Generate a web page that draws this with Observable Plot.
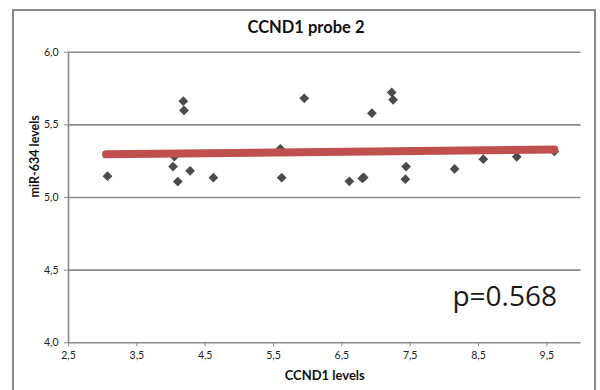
<!DOCTYPE html>
<html>
<head>
<meta charset="utf-8">
<script src="https://cdn.jsdelivr.net/npm/d3@7"></script>
<script src="https://cdn.jsdelivr.net/npm/@observablehq/plot@0.6"></script>
<style>
  html, body { margin: 0; padding: 0; background: #fff; }
  #wrap { position: relative; width: 600px; height: 390px; overflow: hidden; font-family: Lato, "Open Sans", sans-serif; }
  #border { position: absolute; left: 12px; top: 9px; width: 584px; height: 400px; border: 2px solid #8a8a8a; box-sizing: border-box; }
  #title { position: absolute; left: 0; width: 612px; top: 17px; text-align: center; font-weight: bold; font-size: 16.5px; color: #111; }
  #chart { position: absolute; left: 0; top: 0; }
</style>
</head>
<body>
<div id="wrap">
  <div id="border"></div>
  <div id="title">CCND1 probe 2</div>
  <div id="chart"></div>
</div>
<script>
// CCND1 expression (x) against miR-634 expression (y), one diamond per sample
const ccnd1  = [3.07, 4.03, 4.10, 4.05, 4.18, 4.19, 4.28, 4.62, 5.60, 5.62, 5.95, 6.61, 6.80, 6.82, 6.94, 7.23, 7.25, 7.44, 7.43, 8.15, 8.57, 9.06, 9.61];
const mir634 = [5.147, 5.213, 5.110, 5.282, 5.663, 5.599, 5.184, 5.136, 5.335, 5.136, 5.683, 5.111, 5.131, 5.138, 5.580, 5.723, 5.672, 5.213, 5.126, 5.197, 5.264, 5.280, 5.317];

// Fitted trend line end points
const trendX = [3.05, 9.61];
const trendY = [5.297, 5.331];

// Axis ticks and grid
const xTicks = [2.5, 3.5, 4.5, 5.5, 6.5, 7.5, 8.5, 9.5];
const yTicks = [4.0, 4.5, 5.0, 5.5, 6.0];
const yGrid  = [4.5, 5.0, 5.5, 6.0];

const pLabel = "p=0.568";

const samples = ccnd1.map((x, i) => ({x, y: mir634[i]}));
const trend = trendX.map((x, i) => ({x, y: trendY[i]}));
const comma = d => d3.format(".1f")(d).replace(".", ",");
const gridColor = "#8a8a8a";

const chart = Plot.plot({
  width: 600,
  height: 390,
  marginLeft: 68,
  marginRight: 19.5,
  marginTop: 51.7,
  marginBottom: 47.7,
  style: {fontFamily: "Lato, 'Open Sans', sans-serif", fontSize: "10.5px", color: "#222", background: "transparent", overflow: "visible"},
  x: {domain: [2.5, 10]},
  y: {domain: [4, 6]},
  marks: [
    Plot.ruleY(yGrid, {stroke: gridColor, strokeWidth: 1.6}),
    Plot.ruleX([2.5], {stroke: gridColor, strokeWidth: 1.6}),
    Plot.ruleY([4], {stroke: gridColor, strokeWidth: 1.6}),
    Plot.axisX({ticks: xTicks, tickFormat: comma, tickSize: 4, tickPadding: 5, stroke: gridColor, label: null}),
    Plot.axisY({ticks: yTicks, tickFormat: comma, tickSize: 4, tickPadding: 6, stroke: gridColor, label: null}),
    Plot.dot(samples, {x: "x", y: "y", symbol: "diamond2", r: 4.4, fill: "#4b4b4b", stroke: "none"}),
    Plot.line(trend, {x: "x", y: "y", stroke: "#c0504d", strokeWidth: 8, strokeLinecap: "round"}),
    Plot.text([pLabel], {frameAnchor: "bottom-right", dx: -24, dy: -37, textAnchor: "end", lineAnchor: "bottom", fontSize: 28, fontFamily: "'Open Sans', sans-serif", fill: "#1a1a1a"}),
    Plot.text(["CCND1 levels"], {frameAnchor: "bottom", dy: 33, lineAnchor: "middle", fontWeight: "bold", fontSize: 13, fill: "#111"}),
    Plot.text(["miR-634 levels"], {frameAnchor: "left", dx: -34, rotate: -90, fontWeight: "bold", fontSize: 12.5, fill: "#111"})
  ]
});
document.getElementById("chart").append(chart);
</script>
</body>
</html>
